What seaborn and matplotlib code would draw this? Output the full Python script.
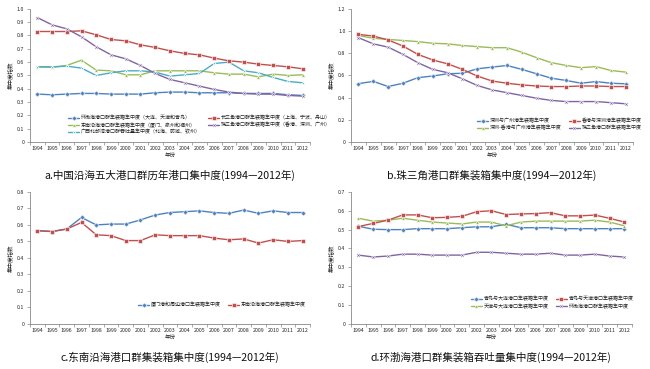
import matplotlib

matplotlib.use("Agg")
import matplotlib.pyplot as plt  # noqa: E402
import numpy as np  # noqa: E402
import pandas as pd  # noqa: E402
import seaborn as sns  # noqa: E402

sns.set_theme(style="ticks")
plt.rcParams["font.family"] = ["Noto Sans CJK SC", "DejaVu Sans"]

years = list(range(1994, 2013))

# a. five port clusters
a_names = ["环渤海港口群集装箱集中度（大连、天津和青岛）",
           "东南沿海港口群集装箱集中度（厦门、泉州和福州）",
           "广西北部湾港口群吞吐量集中度（北海、防城、钦州）",
           "长三角港口群集装箱集中度（上海、宁波、舟山）",
           "珠三角港口群集装箱集中度（香港、深圳、广州）"]
a_bohai = [0.36, 0.355, 0.36, 0.365, 0.365, 0.36, 0.36, 0.36, 0.37, 0.375,
           0.375, 0.37, 0.37, 0.37, 0.365, 0.365, 0.365, 0.355, 0.35]
a_southeast = [0.565, 0.56, 0.575, 0.615, 0.54, 0.535, 0.505, 0.505, 0.535, 0.535,
               0.535, 0.535, 0.52, 0.51, 0.51, 0.49, 0.51, 0.50, 0.505]
a_guangxi = [0.565, 0.565, 0.57, 0.555, 0.50, 0.52, 0.535, 0.535, 0.525, 0.495,
             0.505, 0.515, 0.59, 0.60, 0.535, 0.52, 0.485, 0.455, 0.445]
a_yangtze = [0.83, 0.83, 0.83, 0.835, 0.805, 0.77, 0.76, 0.73, 0.71, 0.685,
             0.665, 0.655, 0.63, 0.61, 0.60, 0.585, 0.575, 0.565, 0.55]
a_pearl = [0.935, 0.88, 0.85, 0.79, 0.715, 0.655, 0.625, 0.575, 0.515, 0.47,
           0.445, 0.42, 0.395, 0.375, 0.365, 0.36, 0.36, 0.35, 0.345]

# b. Pearl River Delta
b_names = ["深圳与广州港集装箱集中度", "深圳-香港与广州港集装箱集中度",
           "香港与深圳港集装箱集中度", "珠三角港口群集装箱集中度"]
b_sz_gz = [0.526, 0.547, 0.50, 0.53, 0.58, 0.595, 0.615, 0.62, 0.66, 0.675,
           0.69, 0.655, 0.615, 0.575, 0.555, 0.53, 0.545, 0.53, 0.525]
b_szhk_gz = [0.96, 0.935, 0.925, 0.915, 0.905, 0.89, 0.885, 0.87, 0.86, 0.85,
             0.85, 0.81, 0.76, 0.715, 0.69, 0.67, 0.68, 0.645, 0.63]
b_hk_sz = [0.97, 0.955, 0.92, 0.865, 0.79, 0.74, 0.705, 0.655, 0.595, 0.55,
           0.53, 0.515, 0.505, 0.50, 0.50, 0.505, 0.505, 0.50, 0.50]
b_pearl = [0.94, 0.885, 0.855, 0.79, 0.715, 0.655, 0.625, 0.57, 0.51, 0.47,
           0.445, 0.42, 0.395, 0.375, 0.365, 0.365, 0.365, 0.355, 0.345]

# c. south-east coast
c_names = ["厦门港和周边港口集装箱集中度", "东南沿海港口群集装箱集中度"]
c_xiamen = [0.565, 0.56, 0.575, 0.645, 0.60, 0.605, 0.605, 0.63, 0.66, 0.675,
            0.68, 0.685, 0.675, 0.67, 0.69, 0.67, 0.685, 0.675, 0.675]
c_southeast = [0.565, 0.56, 0.575, 0.615, 0.54, 0.535, 0.505, 0.505, 0.54, 0.535,
               0.535, 0.535, 0.52, 0.51, 0.515, 0.49, 0.51, 0.50, 0.505]

# d. Bohai Rim
d_names = ["青岛与大连港口集装箱集中度", "天津与大连港口集装箱集中度",
           "青岛与天津港口集装箱集中度", "环渤海港口群集装箱集中度"]
d_qd_dl = [0.518, 0.502, 0.50, 0.50, 0.505, 0.505, 0.505, 0.51, 0.515, 0.515,
           0.528, 0.51, 0.51, 0.51, 0.505, 0.505, 0.505, 0.505, 0.505]
d_tj_dl = [0.56, 0.545, 0.55, 0.56, 0.55, 0.54, 0.535, 0.53, 0.54, 0.54,
           0.52, 0.54, 0.545, 0.545, 0.545, 0.545, 0.55, 0.54, 0.52]
d_qd_tj = [0.516, 0.533, 0.55, 0.578, 0.578, 0.563, 0.565, 0.57, 0.595, 0.60,
           0.58, 0.583, 0.585, 0.59, 0.573, 0.573, 0.577, 0.56, 0.54]
d_bohai = [0.365, 0.355, 0.36, 0.37, 0.37, 0.365, 0.365, 0.365, 0.38, 0.38,
           0.375, 0.37, 0.37, 0.375, 0.365, 0.365, 0.37, 0.36, 0.355]

BLUE, RED, GREEN, PURPLE, CYAN = "#4F81BD", "#C0504D", "#9BBB59", "#8064A2", "#4BACC6"


def panel(ax, names, values, colors, markers, ymax, ystep, anchor, caption):
    df = pd.DataFrame({
        "pos": np.tile(np.arange(len(years)), len(names)),
        "value": np.concatenate(values),
        "series": np.repeat(names, len(years)),
    })
    sns.lineplot(data=df, x="pos", y="value", hue="series", style="series",
                 hue_order=names, style_order=names,
                 palette=dict(zip(names, colors)), markers=dict(zip(names, markers)),
                 dashes=False, lw=1.0, markersize=2.6, markeredgewidth=0.4,
                 sort=False, ax=ax)
    handles, labels = ax.get_legend_handles_labels()
    ax.legend(handles, labels, loc="lower left", bbox_to_anchor=anchor, ncol=2,
              frameon=False, fontsize=3.6, handlelength=2.2, handletextpad=0.3,
              columnspacing=1.5, labelspacing=0.35, borderaxespad=0)
    ax.set_xlim(-0.5, len(years) - 0.5)
    ax.set_xticks(np.arange(len(years)))
    ax.set_xticklabels(years)
    ax.set_xticks(np.arange(len(years) + 1) - 0.5, minor=True)
    ax.tick_params(axis="x", which="major", length=0, labelsize=3.8, pad=3)
    ax.tick_params(axis="x", which="minor", length=2, width=0.5, color="#888888")
    ticks = np.round(np.arange(0, ymax + 1e-9, ystep), 1)
    ax.set_ylim(0, ymax)
    ax.set_yticks(ticks)
    ax.set_yticklabels(["0"] + [f"{t:.1f}" for t in ticks[1:]])
    ax.tick_params(axis="y", length=2, width=0.5, labelsize=3.8, pad=2, color="#888888")
    ax.set_xlabel("年份", fontsize=4, labelpad=1)
    ax.set_ylabel("集中度指数", fontsize=4, labelpad=3)
    for s in ("top", "right"):
        ax.spines[s].set_visible(False)
    for s in ("left", "bottom"):
        ax.spines[s].set_linewidth(0.6)
        ax.spines[s].set_color("#888888")
    ax.text(0.5, -0.21, caption, transform=ax.transAxes, ha="center", va="top",
            fontsize=7.6, color="#111111")


fig = plt.figure(figsize=(6.5, 3.69), dpi=100)
ax_a = fig.add_axes([0.046, 0.615, 0.431, 0.361])
ax_b = fig.add_axes([0.540, 0.615, 0.434, 0.361])
ax_c = fig.add_axes([0.046, 0.122, 0.431, 0.358])
ax_d = fig.add_axes([0.540, 0.122, 0.432, 0.358])

panel(ax_a, a_names, [a_bohai, a_southeast, a_guangxi, a_yangtze, a_pearl],
      [BLUE, GREEN, CYAN, RED, PURPLE], ["D", "^", "*", "s", "X"],
      1.0, 0.1, (0.13, 0.04), "a.中国沿海五大港口群历年港口集中度(1994—2012年)")
panel(ax_b, b_names, [b_sz_gz, b_szhk_gz, b_hk_sz, b_pearl],
      [BLUE, GREEN, RED, PURPLE], ["D", "^", "s", "X"],
      1.2, 0.2, (0.44, 0.07), "b.珠三角港口群集装箱集中度(1994—2012年)")
panel(ax_c, c_names, [c_xiamen, c_southeast],
      [BLUE, RED], ["D", "s"],
      0.8, 0.1, (0.38, 0.11), "c.东南沿海港口群集装箱集中度(1994—2012年)")
panel(ax_d, d_names, [d_qd_dl, d_tj_dl, d_qd_tj, d_bohai],
      [BLUE, GREEN, RED, PURPLE], ["D", "^", "s", "X"],
      0.7, 0.1, (0.42, 0.10), "d.环渤海港口群集装箱吞吐量集中度(1994—2012年)")

fig.savefig("out.png", dpi=100)
